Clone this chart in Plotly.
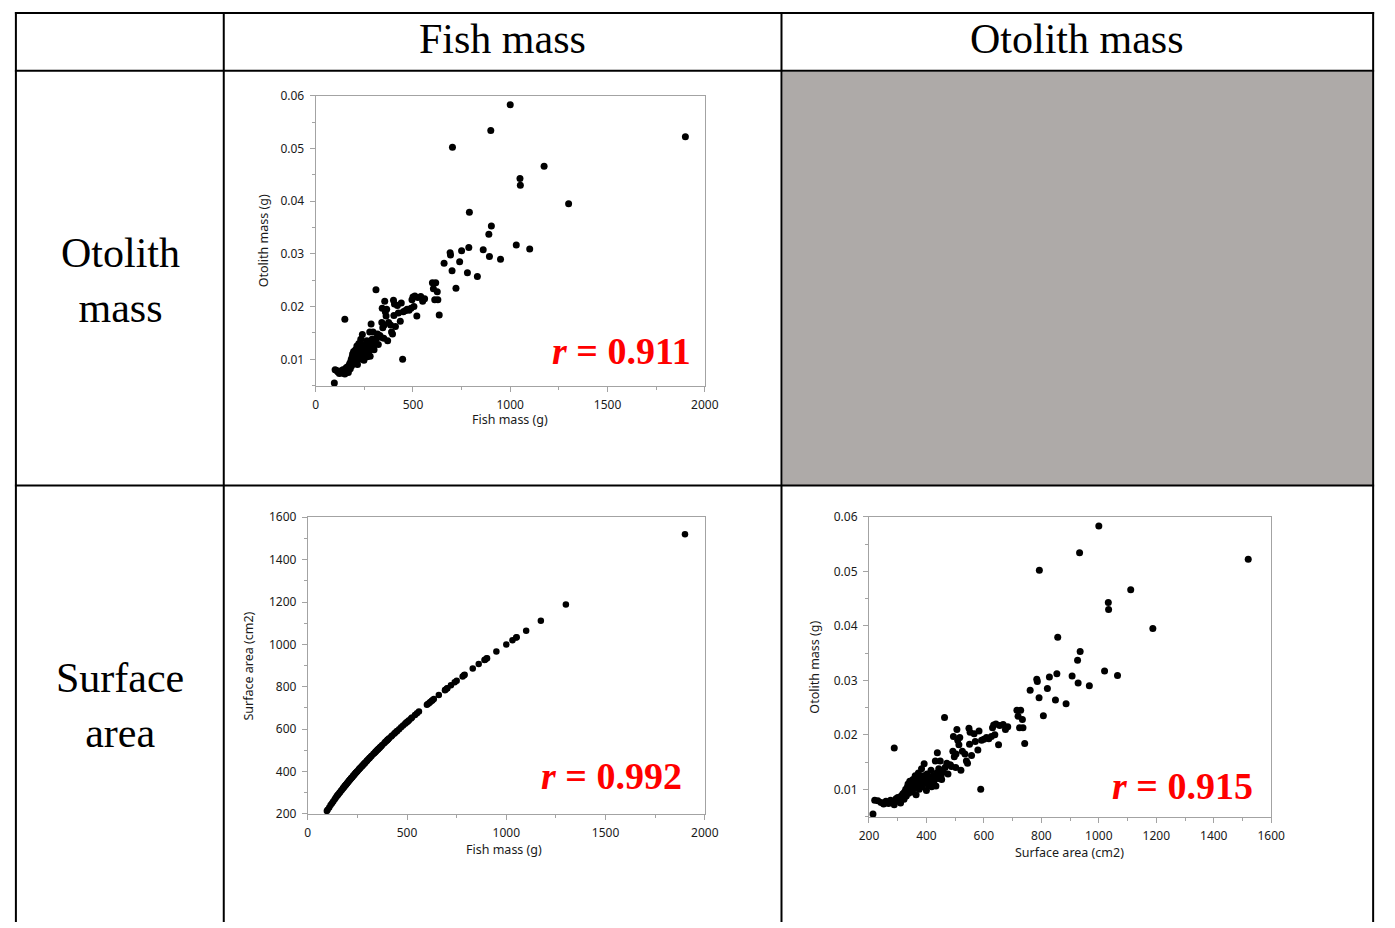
import plotly.graph_objects as go

W, H = 1395, 928

# ---- data ----
fish_mass = [96, 100, 108, 115, 122, 128, 135, 140, 145, 150, 150, 155, 160, 162, 168, 170, 175, 178, 180, 183,
             185, 188, 190, 192, 195, 198, 200, 203, 205, 208, 210, 212, 215, 218, 220, 222, 225, 228, 230, 232,
             235, 238, 240, 242, 245, 248, 250, 255, 258, 260, 263, 265, 270, 272, 275, 278, 280, 283, 285, 288,
             290, 295, 298, 300, 305, 310, 312, 318, 322, 330, 335, 340, 342, 345, 350, 352, 355, 358, 362, 365,
             370, 375, 385, 390, 395, 400, 402, 405, 410, 420, 425, 435, 440, 447, 450, 460, 470, 480, 490, 495,
             500, 505, 510, 520, 525, 540, 550, 560, 600, 605, 612, 617, 625, 628, 635, 660, 691, 693, 701, 703,
             721, 740, 750, 780, 787, 790, 831, 861, 890, 893, 900, 903, 950, 1000, 1031, 1050, 1052, 1100, 1174,
             1300, 1900]
surface_area = [214, 220, 231, 242, 251, 259, 268, 275, 282, 288, 288, 294, 300, 302, 310, 312, 318, 322, 324, 328,
                330, 334, 336, 338, 342, 345, 347, 351, 353, 357, 359, 361, 364, 368, 370, 372, 375, 379, 381, 383,
                386, 390, 392, 394, 397, 400, 402, 407, 411, 413, 416, 418, 423, 425, 428, 431, 433, 436, 438, 441,
                443, 448, 451, 453, 458, 463, 465, 471, 475, 483, 487, 492, 494, 497, 502, 503, 506, 509, 513, 516,
                520, 525, 534, 539, 543, 548, 550, 552, 557, 566, 570, 579, 583, 589, 592, 600, 609, 617, 626, 630,
                634, 638, 642, 651, 655, 667, 675, 683, 715, 719, 724, 728, 734, 736, 742, 761, 784, 786, 792, 793,
                807, 821, 828, 849, 854, 857, 886, 907, 926, 928, 933, 935, 967, 1000, 1020, 1033, 1034, 1065, 1111,
                1188, 1520]
otolith_mass = [0.0055, 0.0080, 0.0079, 0.0076, 0.0073, 0.0078, 0.0074, 0.0080, 0.0077, 0.0072, 0.0176, 0.0083,
                0.0085, 0.0078, 0.0075, 0.0088, 0.0092, 0.0082, 0.0095, 0.0100, 0.0088, 0.0105, 0.0110, 0.0093,
                0.0115, 0.0100, 0.0108, 0.0095, 0.0118, 0.0112, 0.0102, 0.0125, 0.0090, 0.0108, 0.0115, 0.0130,
                0.0100, 0.0120, 0.0110, 0.0138, 0.0105, 0.0125, 0.0147, 0.0112, 0.0118, 0.0098, 0.0128, 0.0108,
                0.0122, 0.0115, 0.0135, 0.0105, 0.0125, 0.0112, 0.0118, 0.0152, 0.0106, 0.0130, 0.0167, 0.0120,
                0.0138, 0.0152, 0.0125, 0.0118, 0.0132, 0.0232, 0.0140, 0.0148, 0.0128, 0.0145, 0.0142, 0.0170,
                0.0197, 0.0160, 0.0140, 0.0165, 0.0210, 0.0190, 0.0182, 0.0195, 0.0135, 0.0170, 0.0165, 0.0152,
                0.0148, 0.0212, 0.0183, 0.0205, 0.0162, 0.0202, 0.0188, 0.0172, 0.0207, 0.0100, 0.0190, 0.0192,
                0.0195, 0.0193, 0.0197, 0.0213, 0.0218, 0.0200, 0.0220, 0.0182, 0.0217, 0.0219, 0.0210, 0.0215,
                0.0245, 0.0234, 0.0213, 0.0245, 0.0228, 0.0213, 0.0184, 0.0282, 0.0302, 0.0298, 0.0268, 0.0502,
                0.0235, 0.0285, 0.0306, 0.0264, 0.0312, 0.0379, 0.0257, 0.0308, 0.0337, 0.0295, 0.0534, 0.0353,
                0.0290, 0.0583, 0.0317, 0.0443, 0.0430, 0.0309, 0.0466, 0.0395, 0.0522]

col_headers = ["Fish mass", "Otolith mass"]
row_headers = ["Otolith<br>mass", "Surface<br>area"]
r_labels = ["0.911", "0.992", "0.915"]


def px(x):
    return x / W


def py(y):
    return 1 - y / H


LINE = "#a3a3a3"
TICKFONT = dict(family="Noto Sans", size=12, color="#1a1a1a")


def axis(d0, d1, rng, dtick, minor_dtick, anchor, tick0=0):
    return dict(domain=[d0, d1], range=rng, dtick=dtick, tick0=tick0, showline=True, linecolor=LINE,
                linewidth=1, mirror=True, ticks="outside", ticklen=5, tickcolor=LINE, showgrid=False,
                zeroline=False, tickfont=TICKFONT, anchor=anchor, ticklabelstandoff=3,
                minor=dict(dtick=minor_dtick, tick0=tick0, ticks="outside", ticklen=3, tickcolor=LINE,
                           showgrid=False))


fig = go.Figure()
mk = dict(color="black", size=7, line=dict(width=0))
fig.add_trace(go.Scatter(x=fish_mass, y=otolith_mass, mode="markers", marker=mk, xaxis="x", yaxis="y",
                         showlegend=False, cliponaxis=False))
fig.add_trace(go.Scatter(x=fish_mass, y=surface_area, mode="markers", marker=dict(color="black", size=6.5),
                         xaxis="x2", yaxis="y2", showlegend=False, cliponaxis=False))
fig.add_trace(go.Scatter(x=surface_area, y=otolith_mass, mode="markers", marker=mk,
                         xaxis="x3", yaxis="y3", showlegend=False, cliponaxis=False))

layout = dict(autosize=True, margin=dict(l=0, r=0, t=0, b=0, pad=0), paper_bgcolor="white",
              plot_bgcolor="white", showlegend=False)
layout["xaxis"] = axis(px(311), px(707), [0, 2000], 500, 250, "y")
layout["yaxis"] = axis(py(383.7), py(88.3), [0.005, 0.06], 0.01, 0.005, "x")
layout["xaxis2"] = axis(px(303), px(707), [0, 2000], 500, 250, "y2")
layout["yaxis2"] = axis(py(820), py(517.7), [200, 1600], 200, 100, "x2")
layout["xaxis3"] = axis(px(874), px(1283.3), [200, 1600], 200, 100, "y3")
layout["yaxis3"] = axis(py(822.7), py(517.3), [0.005, 0.06], 0.01, 0.005, "x3")
fig.update_layout(**layout)

# table: grey cell and grid lines
shapes = [dict(type="rect", xref="paper", yref="paper", x0=px(786), x1=px(1386.5), y0=py(485), y1=py(64),
               fillcolor="#aeaaa8", line=dict(width=0), layer="below")]
for yv in [4, 63, 485.5]:
    shapes.append(dict(type="line", xref="paper", yref="paper", x0=px(5), x1=px(1388), y0=py(yv), y1=py(yv),
                       line=dict(color="black", width=2)))
for xv in [6, 217.5, 785, 1387]:
    shapes.append(dict(type="line", xref="paper", yref="paper", x0=px(xv), x1=px(xv), y0=py(3), y1=py(930),
                       line=dict(color="black", width=2)))
fig.update_layout(shapes=shapes)

SERIF = "Liberation Serif"
ann = []
for txt, cx in zip(col_headers, [501.5, 1086]):
    ann.append(dict(text=txt, x=px(cx), y=py(31), xref="paper", yref="paper", showarrow=False,
                    font=dict(family=SERIF, size=42, color="black"), xanchor="center", yanchor="middle"))
for txt, cy in zip(row_headers, [277, 710]):
    ann.append(dict(text=txt, x=px(112), y=py(cy), xref="paper", yref="paper", showarrow=False,
                    font=dict(family=SERIF, size=42, color="black"), xanchor="center", yanchor="middle"))

# axis titles
AXT = dict(family="Noto Sans", size=12.5, color="#1a1a1a")
for txt, x, y, ang in [("Otolith mass (g)", 258, 236, -90), ("Fish mass (g)", 509, 418, 0),
                       ("Surface area (cm2)", 243, 669, -90), ("Fish mass (g)", 503, 856, 0),
                       ("Otolith mass (g)", 819, 670, -90), ("Surface area (cm2)", 1078, 859, 0)]:
    ann.append(dict(text=txt, x=px(x), y=py(y), xref="paper", yref="paper", showarrow=False, font=AXT,
                    textangle=ang, xanchor="center", yanchor="middle"))

# r labels
for r, rx, ry in zip(r_labels, [695, 686, 1267], [348, 781, 791]):
    ann.append(dict(text="<b><i>r</i> = " + r + "</b>", x=px(rx), y=py(ry), xref="paper", yref="paper",
                    showarrow=False, font=dict(family=SERIF, size=38, color="#ff0000"), xanchor="right",
                    yanchor="middle"))
fig.update_layout(annotations=ann)

post = ("document.documentElement.style.margin='0';document.body.style.margin='0';"
        "document.documentElement.style.overflow='hidden';document.body.style.overflow='hidden';"
        "var gd=document.getElementById('{plot_id}');gd.style.width='100vw';gd.style.height='100vh';"
        "Plotly.Plots.resize(gd);")
fig.write_html("out.html", default_width="100vw", default_height="100vh", config={"responsive": True,
               "displayModeBar": False}, post_script=post)
